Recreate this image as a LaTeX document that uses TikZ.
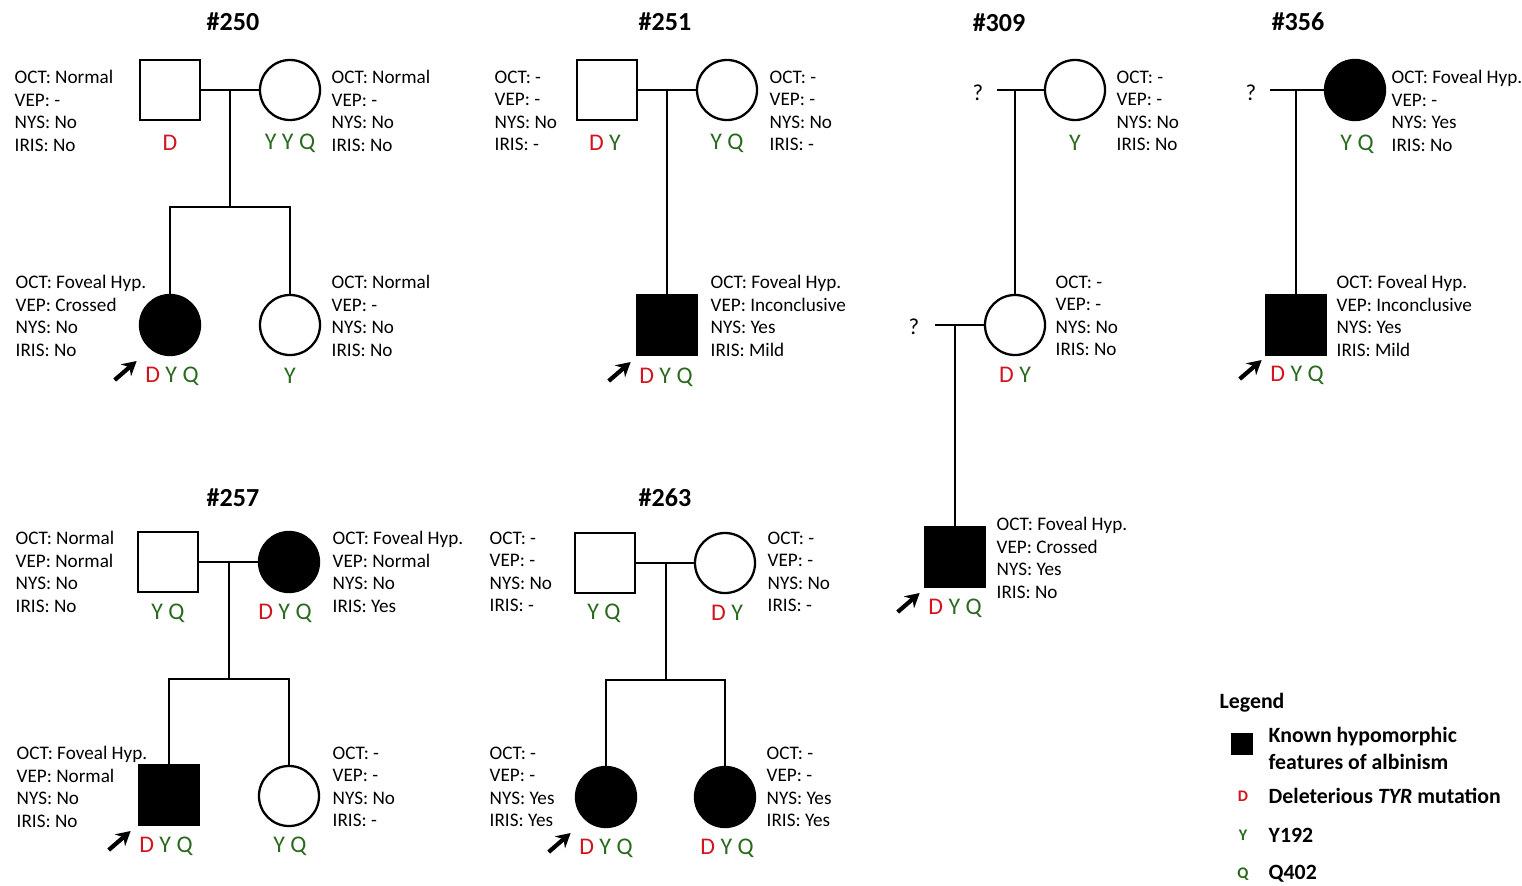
\documentclass[tikz,border=0pt]{standalone}
\usepackage{fontspec}
\setmainfont{Carlito}
\usepackage{xcolor}
\usepackage{tikz}
\usetikzlibrary{calc,arrows.meta}
\definecolor{dred}{HTML}{D2141E}
\definecolor{dgreen}{HTML}{2A6A1E}
\newcommand{\Da}{\textcolor{dred}{D}}
\newcommand{\Ya}{\textcolor{dgreen}{Y}}
\newcommand{\Qa}{\textcolor{dgreen}{Q}}
\newcommand{\eyes}[4]{OCT: #1\\VEP: #2\\NYS: #3\\IRIS: #4}
\tikzset{
  male/.style={draw,line width=0.65pt,minimum size=0.6cm,inner sep=0},
  female/.style={circle,draw,line width=0.65pt,minimum size=0.6cm,inner sep=0},
  aff/.style={fill=black},
  info/.style={inner sep=0,anchor=west,align=left,font=\fontsize{5.45pt}{6.4pt}\selectfont},
  geno/.style={inner sep=0,font=\fontsize{6.8pt}{7pt}\selectfont},
  fam/.style={font=\fontsize{7.4pt}{9pt}\selectfont\bfseries},
  unk/.style={inner sep=0,font=\fontsize{6.5pt}{7pt}\selectfont},
  link/.style={line width=0.65pt},
  proband/.style={line width=1.2pt,-{Stealth[length=4pt,width=4.4pt]}},
  leg/.style={inner sep=0,anchor=west,align=left,font=\fontsize{6.2pt}{7.7pt}\selectfont\bfseries}
}

\begin{document}
\begin{tikzpicture}[x=0.01cm,y=-0.01cm]
\useasboundingbox (0,0) rectangle (1522,885);
% #250
\node[fam] (t250) at (233,22) {\#250};
\node[male] (f250) at (170,90) {};
\node[female] (m250) at (290,90) {};
\node[female,aff] (c250a) at (170,325) {};
\node[female] (c250b) at (290,325) {};
\coordinate (u250) at (230,90); \coordinate (s250) at (230,207);
\draw[link] (f250) -- (m250);
\draw[link] (u250) -- (s250);
\draw[link] (c250a) |- (s250) -| (c250b);
\node[info] (i250f) at (14,111) {\eyes{Normal}{-}{No}{No}};
\node[info] (i250m) at (331,111) {\eyes{Normal}{-}{No}{No}};
\node[info] (i250a) at (15,316) {\eyes{Foveal Hyp.}{Crossed}{No}{No}};
\node[info] (i250b) at (331,316) {\eyes{Normal}{-}{No}{No}};
\node[geno] (g250f) at (170,143) {\Da};
\node[geno] (g250m) at (290,143) {\Ya\ \Ya\ \Qa};
\node[geno] (g250a) at (172,376) {\Da\ \Ya\ \Qa};
\node[geno] (g250b) at (290,376) {\Ya};
\draw[proband] ($(g250a.west)+(-30,4)$) -- ($(g250a.west)+(-8,-15)$);

% #251
\node[fam] (t251) at (665,22) {\#251};
\node[male] (f251) at (607,90) {};
\node[female] (m251) at (727,90) {};
\node[male,aff] (c251) at (667,325) {};
\coordinate (u251) at (667,90);
\draw[link] (f251) -- (m251);
\draw[link] (u251) -- (c251);
\node[info] (i251f) at (494,111) {\eyes{-}{-}{No}{-}};
\node[info] (i251m) at (769,111) {\eyes{-}{-}{No}{-}};
\node[info] (i251c) at (710,316) {\eyes{Foveal Hyp.}{Inconclusive}{Yes}{Mild}};
\node[geno] (g251f) at (605,143) {\Da\ \Ya};
\node[geno] (g251m) at (727,143) {\Ya\ \Qa};
\node[geno] (g251c) at (666,377) {\Da\ \Ya\ \Qa};
\draw[proband] ($(g251c.west)+(-30,4)$) -- ($(g251c.west)+(-8,-15)$);

% #309
\node[fam] (t309) at (999,23) {\#309};
\node[unk] (q309a) at (978,93) {?};
\node[female] (m309) at (1075,90) {};
\node[female] (d309) at (1015,325) {};
\node[unk] (q309b) at (914,327) {?};
\node[male,aff] (c309) at (955,557) {};
\coordinate (u309) at (1015,90); \coordinate (v309) at (955,325);
\draw[link] ($(q309a.east |- m309.west)+(13,0)$) -- (m309);
\draw[link] (u309) -- (d309);
\draw[link] ($(q309b.east |- d309.west)+(15,0)$) -- (d309);
\draw[link] (v309) -- (c309);
\node[info] (i309m) at (1116,111) {\eyes{-}{-}{No}{No}};
\node[info] (i309d) at (1055,316) {\eyes{-}{-}{No}{No}};
\node[info] (i309c) at (996,558) {\eyes{Foveal Hyp.}{Crossed}{Yes}{No}};
\node[geno] (g309m) at (1075,143) {\Ya};
\node[geno] (g309d) at (1015,375) {\Da\ \Ya};
\node[geno] (g309c) at (955,608) {\Da\ \Ya\ \Qa};
\draw[proband] ($(g309c.west)+(-30,4)$) -- ($(g309c.west)+(-8,-15)$);

% #356
\node[fam] (t356) at (1298,22) {\#356};
\node[unk] (q356) at (1251,93) {?};
\node[female,aff] (m356) at (1355,90) {};
\node[male,aff] (c356) at (1296,325) {};
\coordinate (u356) at (1296,90);
\draw[link] ($(q356.east |- m356.west)+(13,0)$) -- (m356);
\draw[link] (u356) -- (c356);
\node[info] (i356m) at (1391,111) {\eyes{Foveal Hyp.}{-}{Yes}{No}};
\node[info] (i356c) at (1336,316) {\eyes{Foveal Hyp.}{Inconclusive}{Yes}{Mild}};
\node[geno] (g356m) at (1357,144) {\Ya\ \Qa};
\node[geno] (g356c) at (1297,375) {\Da\ \Ya\ \Qa};
\draw[proband] ($(g356c.west)+(-30,4)$) -- ($(g356c.west)+(-8,-15)$);

% #257
\node[fam] (t257) at (233,498) {\#257};
\node[male] (f257) at (168,562) {};
\node[female,aff] (m257) at (289,562) {};
\node[male,aff] (c257a) at (169,795) {};
\node[female] (c257b) at (289,796) {};
\coordinate (u257) at (229,562); \coordinate (s257) at (229,679);
\draw[link] (f257) -- (m257);
\draw[link] (u257) -- (s257);
\draw[link] (c257a) |- (s257) -| (c257b);
\node[info] (i257f) at (15,572) {\eyes{Normal}{Normal}{No}{No}};
\node[info] (i257m) at (332,572) {\eyes{Foveal Hyp.}{Normal}{No}{Yes}};
\node[info] (i257a) at (16,787) {\eyes{Foveal Hyp.}{Normal}{No}{No}};
\node[info] (i257b) at (332,787) {\eyes{-}{-}{No}{-}};
\node[geno] (g257f) at (168,613) {\Ya\ \Qa};
\node[geno] (g257m) at (285,613) {\Da\ \Ya\ \Qa};
\node[geno] (g257a) at (166,846) {\Da\ \Ya\ \Qa};
\node[geno] (g257b) at (290,846) {\Ya\ \Qa};
\draw[proband] ($(g257a.west)+(-30,4)$) -- ($(g257a.west)+(-8,-15)$);

% #263
\node[fam] (t263) at (665,498) {\#263};
\node[male] (f263) at (605,563) {};
\node[female] (m263) at (725,563) {};
\node[female,aff] (c263a) at (606,797) {};
\node[female,aff] (c263b) at (725,797) {};
\coordinate (u263) at (666,563); \coordinate (s263) at (666,680);
\draw[link] (f263) -- (m263);
\draw[link] (u263) -- (s263);
\draw[link] (c263a) |- (s263) -| (c263b);
\node[info] (i263f) at (489,572) {\eyes{-}{-}{No}{-}};
\node[info] (i263m) at (767,572) {\eyes{-}{-}{No}{-}};
\node[info] (i263a) at (489,787) {\eyes{-}{-}{Yes}{Yes}};
\node[info] (i263b) at (766,787) {\eyes{-}{-}{Yes}{Yes}};
\node[geno] (g263f) at (604,613) {\Ya\ \Qa};
\node[geno] (g263m) at (727,613) {\Da\ \Ya};
\node[geno] (g263a) at (606,848) {\Da\ \Ya\ \Qa};
\node[geno] (g263b) at (727,848) {\Da\ \Ya\ \Qa};
\draw[proband] ($(g263a.west)+(-30,4)$) -- ($(g263a.west)+(-8,-15)$);

% legend
\node[leg] (lt) at (1219,703) {Legend};
\node[fill=black,minimum size=0.22cm,inner sep=0] (lsq) at (1242,744) {};
\node[leg] (l1) at (1268,748) {Known hypomorphic\\features of albinism};
\node[inner sep=0,font=\fontsize{4.6pt}{5pt}\selectfont\bfseries] (lD) at (1243,796) {\Da};
\node[leg] (l2) at (1268,796) {Deleterious \textit{TYR} mutation};
\node[inner sep=0,font=\fontsize{4.6pt}{5pt}\selectfont\bfseries] (lY) at (1243,835) {\Ya};
\node[leg] (l3) at (1268,835) {Y192};
\node[inner sep=0,font=\fontsize{4.6pt}{5pt}\selectfont\bfseries] (lQ) at (1243,874) {\Qa};
\node[leg] (l4) at (1268,874) {Q402};
\end{tikzpicture}
\end{document}
